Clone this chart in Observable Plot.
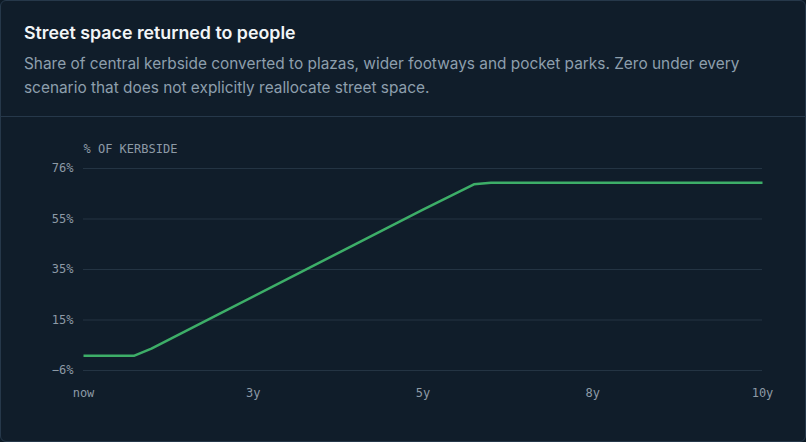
<!DOCTYPE html>
<html>
<head>
<meta charset="utf-8">
<script src="https://cdn.jsdelivr.net/npm/d3@7"></script>
<script src="https://cdn.jsdelivr.net/npm/@observablehq/plot@0.6"></script>
<style>
  html, body { margin: 0; padding: 0; background: #0d1a26; }
  .card {
    position: absolute; left: 0; top: 0; width: 806px; height: 442px;
    box-sizing: border-box; border: 1px solid #26384a; border-radius: 6px;
    background: #101d2a; overflow: hidden; font-family: Inter, "Noto Sans", sans-serif;
  }
  .head { height: 116px; box-sizing: border-box; padding: 20px 23px 0 23px; border-bottom: 1px solid #26384a; }
  .title { color: #f2f5f7; font-size: 17.8px; font-weight: 600; line-height: 24px; }
  .sub { color: #8d9fad; font-size: 15.4px; line-height: 24px; margin-top: 7px; }
  svg { display: block; }
</style>
</head>
<body>
<div class="card">
  <div class="head">
    <div class="title">Street space returned to people</div>
    <div class="sub">Share of central kerbside converted to plazas, wider footways and pocket parks. Zero under every<br>scenario that does not explicitly reallocate street space.</div>
  </div>
  <div id="chart"></div>
</div>
<script>
// years from now
const years = [0, 0.5, 0.75, 1, 2, 3, 4, 5, 5.75, 6, 7, 8, 9, 10];
// % of kerbside
const share = [0, 0, 0, 2.9, 17, 31.1, 45.2, 59.3, 69.6, 70.2, 70.2, 70.2, 70.2, 70.2];
const xTicks = [0, 2.5, 5, 7.5, 10];
const xTickLabels = ["now", "3y", "5y", "8y", "10y"];
const yTicks = [-6, 14.5, 35, 55.5, 76];
const yTickLabels = ["−6%", "15%", "35%", "55%", "76%"];
const yLabel = "% OF KERBSIDE";

const data = years.map((t, i) => ({t, v: share[i]}));
const mono = "'DejaVu Sans Mono', monospace";

const plot = Plot.plot({
  width: 804,
  height: 324,
  marginLeft: 82,
  marginRight: 43,
  marginTop: 51,
  marginBottom: 71,
  style: {background: "transparent", color: "#8d9aa6", fontFamily: mono, fontSize: "12px"},
  x: {domain: [0, 10], label: null},
  y: {domain: [-6, 76], label: null},
  marks: [
    Plot.gridY(yTicks, {stroke: "#243443", strokeOpacity: 1, strokeWidth: 1}),
    Plot.axisX({ticks: xTicks, tickFormat: (d) => xTickLabels[xTicks.indexOf(d)], tickSize: 0, tickPadding: 18, fill: "#8d9aa6", fontFamily: mono, fontSize: 12, label: null}),
    Plot.axisY({ticks: yTicks, tickFormat: d => yTickLabels[yTicks.indexOf(d)], tickSize: 0, tickPadding: 10, fill: "#8d9aa6", fontFamily: mono, fontSize: 12, label: null}),
    Plot.text([yLabel], {frameAnchor: "top-left", dy: -24, text: d => d, textAnchor: "start", fill: "#8d9aa6", fontFamily: mono, fontSize: 12, style: "letter-spacing:0.6px"}),
    Plot.line(data, {x: "t", y: "v", stroke: "#3dae68", strokeWidth: 2.5, strokeLinejoin: "round", strokeLinecap: "butt"})
  ]
});
document.getElementById("chart").appendChild(plot);
</script>
</body>
</html>
